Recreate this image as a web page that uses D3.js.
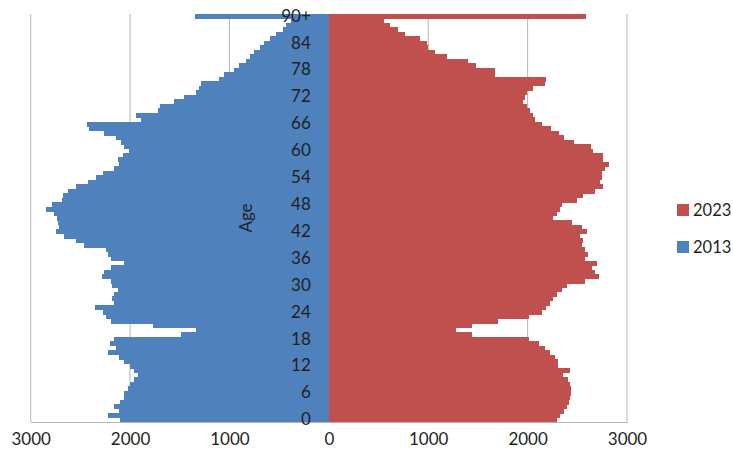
<!DOCTYPE html>
<html>
  <head>
    <meta charset="utf-8" />
    <title>Population pyramid 2013 / 2023</title>
    <style>
      body { margin: 0; background: #fff; }
      svg text { font-family: Lato, "Open Sans", sans-serif; fill: #1f1f1f; }
    </style>
  </head>
  <body>
    <div id="chart-area"></div>

    <script type="text/javascript" src="https://d3js.org/d3.v7.min.js"></script>
    <script type="text/javascript">
      // ages 0..89 plus the open-ended 90+ group
      const ages = d3.range(0, 90).map(String).concat(["90+"]);
      const ageTicks = ["0", "6", "12", "18", "24", "30", "36", "42", "48", "54", "60", "66", "72", "78", "84", "90+"];
      const xTicks = [-3000, -2000, -1000, 0, 1000, 2000, 3000];
      const seriesNames = ["2023", "2013"];

      // people per age, 0 .. 90+
      const pop2013 = [
        2100, 2220, 2110, 2160, 2100, 2060, 2060, 2020, 2000, 1960,
        1920, 1960, 2000, 2060, 2110, 2220, 2140, 2200, 2160, 1490,
        1340, 1770, 2190, 2240, 2270, 2350, 2160, 2180, 2160, 2120,
        2180, 2190, 2280, 2260, 2190, 2060, 2190, 2220, 2240, 2460,
        2540, 2660, 2750, 2720, 2730, 2740, 2770, 2850, 2790, 2690,
        2670, 2620, 2540, 2420, 2340, 2270, 2160, 2110, 2120, 2070,
        2010, 2060, 2090, 2140, 2260, 2410, 2430, 1890, 1940, 1720,
        1700, 1560, 1460, 1340, 1310, 1290, 1105, 1060, 955, 905,
        835, 795, 755, 695, 655, 595, 535, 465, 435, 385,
        1345
      ];
      const pop2023 = [
        2295, 2325, 2365, 2395, 2420, 2425, 2435, 2435, 2425, 2410,
        2360, 2425, 2310, 2310, 2275, 2225, 2175, 2110, 2010, 1440,
        1280, 1440, 1705, 2010, 2140, 2190, 2225, 2260, 2295, 2345,
        2395, 2575, 2720, 2680, 2645, 2695, 2575, 2610, 2575, 2545,
        2560, 2525, 2595, 2545, 2445, 2260, 2295, 2325, 2345, 2495,
        2560, 2680, 2755, 2730, 2745, 2745, 2780, 2820, 2760, 2755,
        2660, 2640, 2470, 2370, 2320, 2240, 2140, 2070, 2055, 2020,
        1990, 1955, 1970, 1990, 2055, 2170, 2190, 1670, 1670, 1485,
        1400, 1185, 1065, 1000, 985, 915, 765, 700, 615, 550,
        2590
      ];

      const colors = { "2023": "#C0504D", "2013": "#4F81BD" };

      const width = 733;
      const height = 459;
      const plotLeft = 30.7, plotRight = 627, plotTop = 14, plotBottom = 422;

      const svg = d3.select("#chart-area").append("svg")
        .attr("width", width)
        .attr("height", height);

      const xScale = d3.scaleLinear()
        .domain([-3000, 3000])
        .range([plotLeft, plotRight]);

      const yScale = d3.scaleBand()
        .domain(ages)
        .range([plotBottom, plotTop])
        .padding(0);

      // vertical gridlines
      svg.append("g")
        .selectAll("line")
        .data(xTicks)
        .join("line")
        .attr("x1", d => xScale(d))
        .attr("x2", d => xScale(d))
        .attr("y1", plotTop)
        .attr("y2", plotBottom)
        .attr("stroke", "#b4b4b4")
        .attr("stroke-width", 1);

      // 2013 to the left
      svg.append("g")
        .attr("shape-rendering", "crispEdges")
        .selectAll("rect")
        .data(ages)
        .join("rect")
        .attr("x", (d, i) => xScale(-pop2013[i]))
        .attr("y", d => yScale(d))
        .attr("width", (d, i) => xScale(0) - xScale(-pop2013[i]))
        .attr("height", yScale.bandwidth() + 0.5)
        .attr("fill", colors["2013"]);

      // 2023 to the right
      svg.append("g")
        .attr("shape-rendering", "crispEdges")
        .selectAll("rect")
        .data(ages)
        .join("rect")
        .attr("x", xScale(0))
        .attr("y", d => yScale(d))
        .attr("width", (d, i) => xScale(pop2023[i]) - xScale(0))
        .attr("height", yScale.bandwidth() + 0.5)
        .attr("fill", colors["2023"]);

      // x axis
      const xAxis = svg.append("g")
        .attr("transform", `translate(0, ${plotBottom})`)
        .call(d3.axisBottom(xScale)
          .tickValues(xTicks)
          .tickSize(0)
          .tickPadding(11)
          .tickFormat(d => Math.abs(d)));
      xAxis.select(".domain").attr("stroke", "#b4b4b4");
      xAxis.selectAll("text")
        .attr("font-size", 17)
        .attr("font-family", "Lato, sans-serif")
        .attr("fill", "#1f1f1f");

      // age axis sits on the zero line
      const yAxis = svg.append("g")
        .attr("transform", `translate(${xScale(0)}, 0)`)
        .call(d3.axisLeft(yScale)
          .tickValues(ageTicks)
          .tickSize(0)
          .tickPadding(18));
      yAxis.select(".domain").remove();
      yAxis.selectAll("text")
        .attr("font-size", 17)
        .attr("font-family", "Lato, sans-serif")
        .attr("fill", "#1f1f1f");

      svg.append("text")
        .attr("transform", `translate(252, ${(plotTop + plotBottom) / 2}) rotate(-90)`)
        .attr("text-anchor", "middle")
        .attr("font-size", 17)
        .text("Age");

      // legend
      const legend = svg.append("g")
        .selectAll("g")
        .data(seriesNames)
        .join("g")
        .attr("transform", (d, i) => `translate(677, ${204 + i * 37})`);

      legend.append("rect")
        .attr("width", 12)
        .attr("height", 12)
        .attr("fill", d => colors[d]);

      legend.append("text")
        .attr("x", 16)
        .attr("y", 12)
        .attr("font-size", 16.5)
        .text(d => d);
    </script>
  </body>
</html>
